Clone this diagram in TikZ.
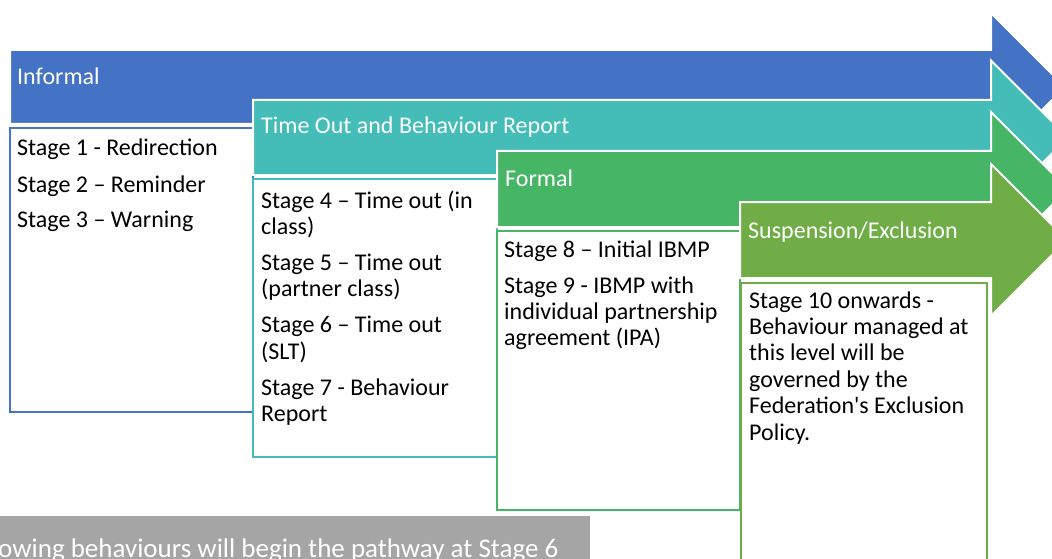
\documentclass[tikz,border=0pt]{standalone}
\usepackage{fontspec}
\setmainfont{Carlito}[Ligatures=TeXOff]
\definecolor{infoblue}{HTML}{4472C4}
\definecolor{timeteal}{HTML}{44BDB8}
\definecolor{formgreen}{HTML}{47B566}
\definecolor{suspgreen}{HTML}{70AD47}
\definecolor{notegray}{HTML}{A5A5A5}
\newcommand\stagefont{\fontsize{24}{26.4}\selectfont}
% top-aligned text block whose reference point is the first baseline
\newcommand\stagetext[1]{\parbox[t]{236pt}{\stagefont\raggedright\setlength\parskip{9.6pt}#1}}
\tikzset{
  headtxt/.style={anchor=base west, inner sep=0pt, text=white, font=\stagefont},
  bodytxt/.style={anchor=base west, inner sep=0pt},
  stagebox/.style={fill=white, line width=2pt},
}
% stage arrow: #1 left x, #2 body top, #3 body bottom, #4 head half-height, #5 colour
\newcommand\stagearrow[5]{%
  \fill[#5, draw=white, line width=2pt, line join=miter]
    (#1,#2) -- (991,#2) -- (991,{(#2+#3)/2-#4}) -- ({991+#4},{(#2+#3)/2})
    -- (991,{(#2+#3)/2+#4}) -- (991,#3) -- (#1,#3) -- cycle;}
\begin{document}
\begin{tikzpicture}[x=1pt,y=-1pt]
\useasboundingbox (0,0) rectangle (1052,559);
\clip (0,0) rectangle (1052,559);

% Informal
\stagearrow{10}{50}{124}{74}{infoblue}
\node[headtxt] (h1) at (17,85) {Informal};
\draw[stagebox, draw=infoblue] (10,128) rectangle (253,412);
\node[bodytxt] (b1) at (17,156) {\stagetext{Stage 1 - Redirection\par Stage 2 – Reminder\par Stage 3 – Warning}};

% Time out and behaviour report
\stagearrow{253}{100}{175}{77}{timeteal}
\node[headtxt] (h2) at (261,134) {Time Out and Behaviour Report};
\draw[stagebox, draw=timeteal] (253,179) rectangle (497,457);
\node[bodytxt] (b2) at (261,208) {\stagetext{Stage 4 – Time out (in\\class)\par Stage 5 – Time out\\(partner class)\par Stage 6 – Time out\\(SLT)\par Stage 7 - Behaviour\\Report}};

% Formal
\stagearrow{497}{151}{227}{77}{formgreen}
\node[headtxt] (h3) at (505,186) {Formal};
\draw[stagebox, draw=formgreen] (497,231) rectangle (740,510);
\node[bodytxt] (b3) at (504,257) {\stagetext{Stage 8 – Initial IBMP\par Stage 9 - IBMP with\\individual partnership\\agreement (IPA)}};

% Suspension / exclusion
\stagearrow{740}{202}{278}{76}{suspgreen}
\node[headtxt] (h4) at (748,238) {Suspension/Exclusion};
\draw[stagebox, draw=suspgreen] (741,283) rectangle (987,580);
\node[bodytxt] (b4) at (749,308) {\stagetext{Stage 10 onwards -\\Behaviour managed at\\this level will be\\governed by the\\Federation's Exclusion\\Policy.}};

% note banner
\fill[notegray] (-5,516) rectangle (590,580);
\node[headtxt, font=\fontsize{27}{31}\selectfont] (note) at (-2,557) {owing behaviours will begin the pathway at Stage 6};
\end{tikzpicture}
\end{document}
